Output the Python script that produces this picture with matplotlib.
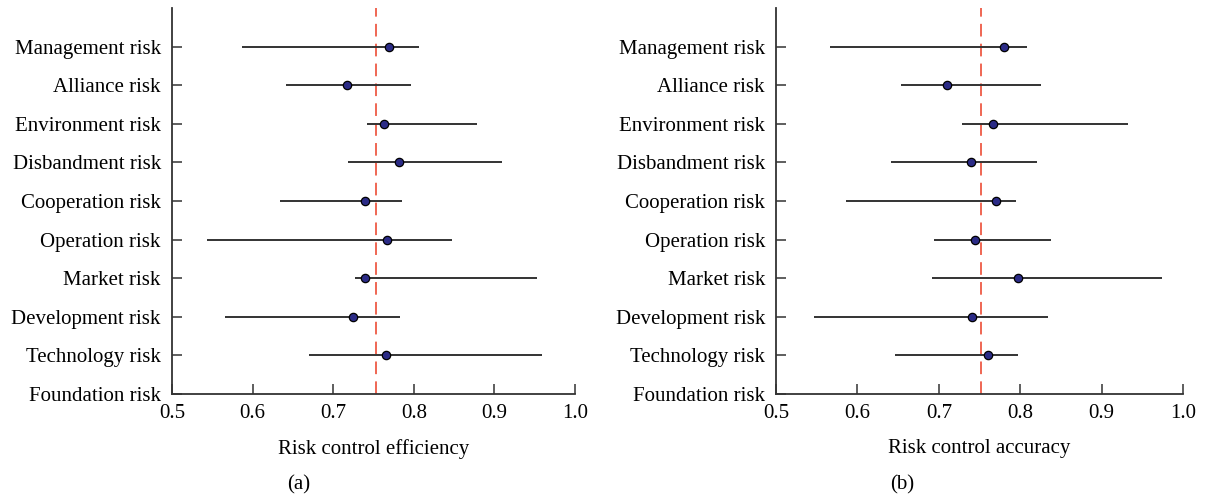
import numpy as np
import matplotlib
matplotlib.use("Agg")
from matplotlib import pyplot as plt

# risk categories, listed bottom to top
risks = ['Foundation risk', 'Technology risk', 'Development risk', 'Market risk',
         'Operation risk', 'Cooperation risk', 'Disbandment risk',
         'Environment risk', 'Alliance risk', 'Management risk']

# (a) risk control efficiency: point estimate and interval (no data for Foundation)
eff_mid = [np.nan, 0.766, 0.724, 0.740, 0.767, 0.740, 0.782, 0.763, 0.717, 0.769]
eff_lo = [np.nan, 0.670, 0.566, 0.727, 0.543, 0.634, 0.718, 0.742, 0.642, 0.587]
eff_hi = [np.nan, 0.959, 0.783, 0.953, 0.848, 0.785, 0.910, 0.878, 0.797, 0.807]
eff_ref = 0.753

# (b) risk control accuracy
acc_mid = [np.nan, 0.761, 0.741, 0.797, 0.745, 0.770, 0.740, 0.767, 0.710, 0.780]
acc_lo = [np.nan, 0.646, 0.547, 0.691, 0.694, 0.586, 0.641, 0.728, 0.653, 0.566]
acc_hi = [np.nan, 0.797, 0.834, 0.974, 0.838, 0.795, 0.820, 0.932, 0.826, 0.808]
acc_ref = 0.752

xticks = [0.5, 0.6, 0.7, 0.8, 0.9, 1.0]

plt.rcParams['font.family'] = ['Liberation Serif', 'DejaVu Serif']
plt.rcParams['font.size'] = 15

fig = plt.figure(figsize=(12.05, 4.98), dpi=100)
ax1 = fig.add_axes([0.1427, 0.2088, 0.3345, 0.775])
ax2 = fig.add_axes([0.644, 0.2088, 0.3378, 0.775])


def forest(ax, mid, lo, hi, ref, xlabel, tag, xc):
    y = np.arange(len(risks))
    ax.hlines(y, lo, hi, color='#333333', lw=1.4, zorder=2)
    ax.plot(mid, y, 'o', ms=6, mfc='#2b2b86', mec='black', mew=0.9, zorder=3)
    ax.axvline(ref, color='#ee5a45', lw=1.3, ls=(0, (7, 4)), zorder=1)
    ax.set_xlim(0.5, 1.0)
    ax.set_ylim(0, 10)
    ax.set_yticks(y)
    ax.set_yticklabels(risks)
    ax.set_xticks(xticks)
    ax.set_xticklabels(['%.1f' % t for t in xticks])
    for s in ['top', 'right']:
        ax.spines[s].set_visible(False)
    for s in ['left', 'bottom']:
        ax.spines[s].set_color('#333333')
        ax.spines[s].set_linewidth(1.3)
    ax.tick_params(axis='both', direction='in', length=7, width=1.1,
                   color='#333333', labelsize=15)
    ax.tick_params(axis='y', pad=8)
    ax.tick_params(axis='x', pad=7)
    ax.set_xlabel(xlabel, fontsize=15, labelpad=12)
    fig.text(xc, 0.027, tag, ha='center', va='center', fontsize=15)


forest(ax1, eff_mid, eff_lo, eff_hi, eff_ref, 'Risk control efficiency', '(a)', 0.248)
forest(ax2, acc_mid, acc_lo, acc_hi, acc_ref, 'Risk control accuracy', '(b)', 0.749)

fig.savefig('out.png', dpi=100)
